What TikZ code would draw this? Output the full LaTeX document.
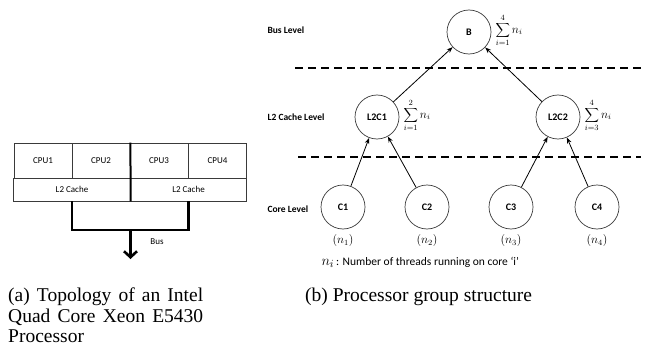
\documentclass[tikz,border=0pt]{standalone}
\usepackage{fontspec}
\setmainfont{Liberation Serif}
\newfontfamily\calfont{Carlito}
\usetikzlibrary{arrows.meta,positioning}
\definecolor{rim}{HTML}{3A3A3A}

\begin{document}
\begin{tikzpicture}[x=1pt,y=-1pt,
    cell/.style={draw=rim, line width=0.8pt, minimum width=58pt, minimum height=35pt, inner sep=0pt, font=\calfont\fontsize{9}{11}\selectfont},
    cache/.style={cell, minimum width=116.5pt, minimum height=23pt},
    bus/.style={line width=2.6pt},
    lvl/.style={anchor=west, font=\calfont\bfseries\fontsize{9.5}{11}\selectfont},
    grp/.style={circle, draw=rim, line width=0.7pt, minimum size=44pt, inner sep=0pt, font=\calfont\bfseries\fontsize{10}{12}\selectfont},
    up/.style={-{Stealth[length=6pt,width=4.5pt]}, line width=0.8pt},
    sep/.style={line width=2.2pt, dash pattern=on 8pt off 5pt},
    tally/.style={right=4pt of #1, yshift=2pt, font=\fontsize{12}{14}\selectfont, inner sep=0pt},
    cnt/.style={font=\fontsize{12}{14}\selectfont, inner sep=0pt},
    subcap/.style={anchor=north west, font=\fontsize{19.5}{20.5}\selectfont, inner sep=0pt}]
  \useasboundingbox (0,0) rectangle (651,353);

  % (a) chip layout
  \node[cell] (cpu1) at (43,160.5) {CPU1};
  \node[cell] (cpu2) at (101,160.5) {CPU2};
  \node[cell] (cpu3) at (159,160.5) {CPU3};
  \node[cell] (cpu4) at (217.5,160.5) {CPU4};
  \node[cache] (l2a) at (72,189.5) {L2 Cache};
  \node[cache] (l2b) at (188.5,189.5) {L2 Cache};
  \draw[line width=2pt] (cpu2.north east) -- (l2a.south east);
  \coordinate (tap) at (130.5,230);
  \coordinate (busend) at (130.5,259);
  \draw[bus] (l2a.south) |- (tap) -| (l2b.south);
  \draw[bus, -{Straight Barb[length=6pt,width=13pt]}] (tap) -- (busend);
  \node[font=\calfont\fontsize{9}{11}\selectfont] (buslbl) at (157,242) {Bus};

  % (b) group tree
  \node[lvl] (lbus) at (264,30) {Bus Level};
  \node[lvl] (lcache) at (264,117) {L2 Cache Level};
  \node[lvl] (lcore) at (264,209) {Core Level};
  \draw[sep] (295,68) -- (641,68);
  \draw[sep] (298,157) -- (641,157);

  \node[grp] (b) at (469,32) {B};
  \node[grp] (l2c1) at (377,117) {L2C1};
  \node[grp] (l2c2) at (558,117) {L2C2};
  \node[grp] (c1) at (343,207) {C1};
  \node[grp] (c2) at (427,207) {C2};
  \node[grp] (c3) at (511,207) {C3};
  \node[grp] (c4) at (597,207) {C4};

  \node[tally=b] (sb) {$\displaystyle\sum_{i=1}^{4} n_i$};
  \node[tally=l2c1] (s1) {$\displaystyle\sum_{i=1}^{2} n_i$};
  \node[tally=l2c2] (s2) {$\displaystyle\sum_{i=3}^{4} n_i$};

  \draw[up] (c1) -- (l2c1);
  \draw[up] (c2) -- (l2c1);
  \draw[up] (c3) -- (l2c2);
  \draw[up] (c4) -- (l2c2);
  \draw[up] (l2c1) -- (b);
  \draw[up] (l2c2) -- (b);

  \node[cnt, below=5pt of c1] (n1) {$(n_1)$};
  \node[cnt, below=5pt of c2] (n2) {$(n_2)$};
  \node[cnt, below=5pt of c3] (n3) {$(n_3)$};
  \node[cnt, below=5pt of c4] (n4) {$(n_4)$};
  \node[anchor=west, font=\calfont\fontsize{11.5}{13}\selectfont] (key) at (318,262)
    {{\fontsize{15}{16}\selectfont$n_i$}\,: Number of threads running on core ‘i’};

  % captions
  \node[subcap, text width=195pt, align=justify] (capa) at (8,288)
    {(a) Topology of an Intel\linebreak Quad Core Xeon E5430\linebreak Processor};
  \node[subcap] (capb) at (305,288) {(b) Processor group structure};
\end{tikzpicture}
\end{document}
